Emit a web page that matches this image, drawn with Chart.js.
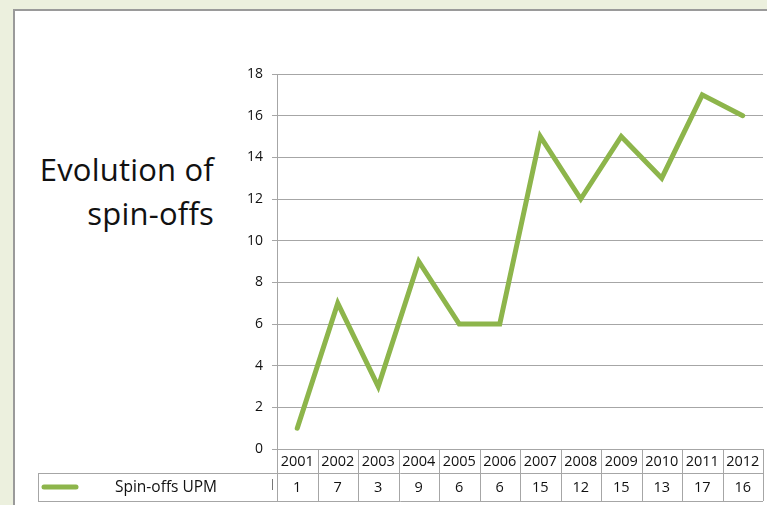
<!DOCTYPE html>
<html>
<head>
<meta charset="utf-8">
<script src="https://cdn.jsdelivr.net/npm/chart.js@4"></script>
<style>
  html, body { margin: 0; padding: 0; }
  body { width: 767px; height: 505px; background: #ECF0DE; position: relative; overflow: hidden; }
  #frame { position: absolute; left: 13px; top: 9px; width: 800px; height: 520px; background: #fff;
           border-left: 2px solid #9a9a9a; border-top: 2px solid #9a9a9a; box-sizing: border-box; }
  #title { position: absolute; right: 553px; top: 147px; text-align: right; font-family: 'Open Sans', sans-serif;
           font-size: 31px; line-height: 44px; color: #111; white-space: nowrap; letter-spacing: 0.2px; }
  #chart { position: absolute; left: 0; top: 0; }
</style>
</head>
<body>
<div id="frame"></div>
<div id="title">Evolution of<br>spin-offs</div>
<canvas id="chart" width="767" height="505"></canvas>
<script>
const years = ['2001', '2002', '2003', '2004', '2005', '2006', '2007', '2008', '2009', '2010', '2011', '2012'];
const spinOffs = [1, 7, 3, 9, 6, 6, 15, 12, 15, 13, 17, 16];
const seriesName = 'Spin-offs UPM';
const yMax = 18;
const yStep = 2;

const green = '#8DB54B';
const gridGray = '#a6a6a6';
const font = "'Open Sans', sans-serif";

// data table under the plot: years row, then legend key + values row
const dataTable = {
  id: 'dataTable',
  afterDraw(chart) {
    const ctx = chart.ctx;
    const area = chart.chartArea;
    const x = chart.scales.x;
    const colW = (area.right - area.left) / years.length;
    const top = area.bottom;
    const mid = top + 24;
    const bottom = 501;
    const keyLeft = 38;

    ctx.save();
    ctx.strokeStyle = gridGray;
    ctx.lineWidth = 1;
    ctx.beginPath();
    ctx.moveTo(area.left, top + 0.5); ctx.lineTo(area.right, top + 0.5);
    ctx.moveTo(keyLeft, mid + 0.5); ctx.lineTo(area.right, mid + 0.5);
    ctx.moveTo(keyLeft, bottom + 0.5); ctx.lineTo(area.right, bottom + 0.5);
    ctx.moveTo(keyLeft + 0.5, mid); ctx.lineTo(keyLeft + 0.5, bottom);
    for (let i = 0; i <= years.length; i++) {
      const px = Math.round(area.left + i * colW) + 0.5;
      ctx.moveTo(px, top); ctx.lineTo(px, bottom);
    }
    ctx.stroke();

    ctx.fillStyle = '#111';
    ctx.font = '14.5px ' + font;
    ctx.textAlign = 'center';
    ctx.textBaseline = 'middle';
    years.forEach((yr, i) => {
      const px = x.getPixelForValue(i);
      ctx.fillText(yr, px, (top + mid) / 2 + 1);
      ctx.fillText(String(spinOffs[i]), px, (mid + bottom) / 2 + 1);
    });

    // legend key
    ctx.strokeStyle = green;
    ctx.lineWidth = 5;
    ctx.lineCap = 'round';
    ctx.beginPath();
    ctx.moveTo(44, 487); ctx.lineTo(76, 487);
    ctx.stroke();
    ctx.font = '15.5px ' + font;
    ctx.fillText(seriesName, 166, (mid + bottom) / 2 + 1);

    ctx.strokeStyle = '#777';
    ctx.lineWidth = 1;
    ctx.lineCap = 'butt';
    ctx.beginPath();
    ctx.moveTo(272.5, 479); ctx.lineTo(272.5, 490);
    ctx.stroke();
    ctx.restore();
  }
};

new Chart(document.getElementById('chart'), {
  type: 'line',
  data: {
    labels: years,
    datasets: [{
      label: seriesName,
      data: spinOffs,
      borderColor: green,
      borderWidth: 5,
      borderCapStyle: 'round',
      borderJoinStyle: 'miter',
      pointRadius: 0,
      tension: 0
    }]
  },
  options: {
    responsive: false,
    animation: false,
    layout: { padding: { left: 0, top: 74, right: 4, bottom: 56 } },
    plugins: { legend: { display: false }, tooltip: { enabled: false } },
    scales: {
      x: { display: false, offset: true },
      y: {
        min: 0,
        max: yMax,
        afterFit(scale) { scale.width = 277; },
        ticks: { stepSize: yStep, padding: 9, color: '#111', font: { family: font, size: 14 } },
        grid: { color: gridGray, tickLength: 5 },
        border: { color: gridGray }
      }
    }
  },
  plugins: [dataTable]
});
</script>
</body>
</html>
